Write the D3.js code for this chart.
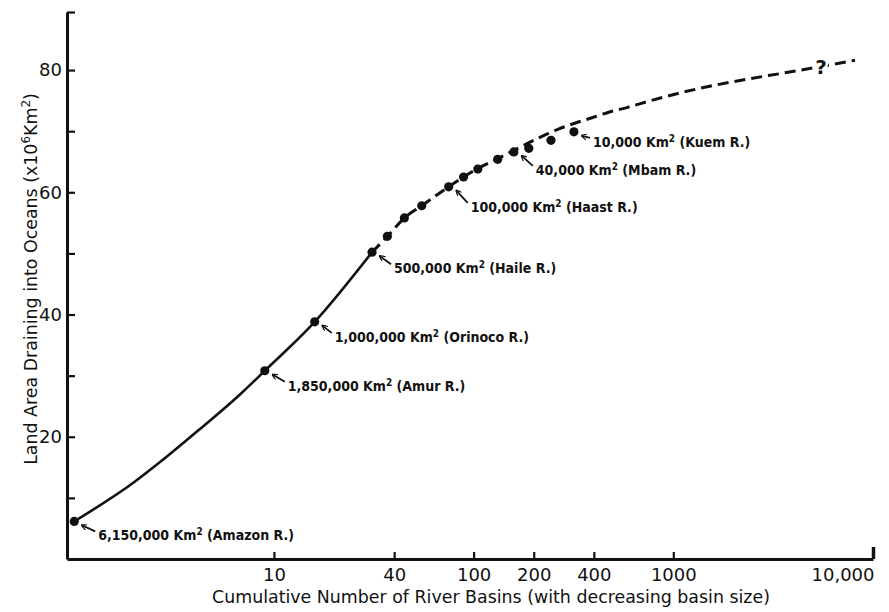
<!DOCTYPE html>
<html>
<head>
<meta charset="utf-8">
<script src="https://cdn.jsdelivr.net/npm/d3@7"></script>
<style>
  body { margin: 0; background: #fff; }
  svg { display: block; }
  .tick text { font-family: "DejaVu Sans", sans-serif; font-size: 18px; fill: #111; }
  .lbl { font-family: "DejaVu Sans Condensed", "DejaVu Sans", sans-serif; font-weight: bold; font-size: 14px; fill: #111; }
  .title { font-family: "DejaVu Sans", sans-serif; font-size: 17.4px; fill: #111; }
</style>
</head>
<body>
<div id="chart"></div>
<script>
// observed basins (cumulative rank, cumulative area x10^6 km2)
var dotN = [1, 9, 16, 31, 37, 45, 55, 75, 89, 105, 132, 159, 189, 244, 318];
var dotV = [6.15, 30.8, 38.8, 50.2, 52.8, 55.8, 57.8, 60.9, 62.5, 63.8, 65.4, 66.6, 67.2, 68.5, 69.9];

// fitted curve (solid up to Haile R., dashed beyond)
var curveN = [1, 2.0, 2.7, 4.2, 6.7, 9, 16, 31, 37, 45, 55, 75, 89, 105, 132, 160, 215, 264, 321, 391, 475, 590, 770, 1125, 1660, 2430, 3550, 5500, 8130];
var curveV = [6.15, 12.6, 15.9, 21.1, 26.8, 30.8, 38.8, 50.2, 52.8, 55.8, 57.8, 60.9, 62.5, 63.9, 65.5, 66.9, 69.0, 70.3, 71.3, 72.2, 73.1, 73.9, 75.0, 76.4, 77.6, 78.6, 79.5, 80.6, 81.6];
var solidEnd = 31;

// annotated rivers: index into dots, text
var labelIdx = [0, 1, 2, 3, 7, 11, 14];
var labelArea = ["6,150,000", "1,850,000", "1,000,000", "500,000", "100,000", "40,000", "10,000"];
var labelRiver = ["Amazon R.", "Amur R.", "Orinoco R.", "Haile R.", "Haast R.", "Mbam R.", "Kuem R."];

var xTicks = [10, 40, 100, 200, 400, 1000, 10000];
var yTicks = [10, 20, 30, 40, 50, 60, 70, 80, 89.5];
var yLabels = [20, 40, 60, 80];
var questionN = 5500, questionV = 80.6;

var width = 889, height = 612;

var x = d3.scaleLog().domain([0.92, 10000]).range([67, 873]);
var y = d3.scaleLinear().domain([0, 89.5]).range([559, 12]);

var svg = d3.select("#chart").append("svg")
  .attr("width", width)
  .attr("height", height);

// label offsets from their dot (text start dx, baseline dy)
var labelOff = [[24, 19], [23, 20], [20, 20], [22, 21], [22, 25], [22, 23], [19, 15]];

// curve
var line = d3.line()
  .x(function(d) { return x(d[0]); })
  .y(function(d) { return y(d[1]); })
  .curve(d3.curveMonotoneX);

var pts = curveN.map(function(n, i) { return [n, curveV[i]]; });
var solidPts = pts.filter(function(d) { return d[0] <= solidEnd; });
var dashPts = pts.filter(function(d) { return d[0] >= solidEnd; });

svg.append("path")
  .datum(solidPts)
  .attr("d", line)
  .attr("fill", "none")
  .attr("stroke", "#111")
  .attr("stroke-width", 2.6);

svg.append("path")
  .datum(dashPts)
  .attr("d", line)
  .attr("fill", "none")
  .attr("stroke", "#111")
  .attr("stroke-width", 3)
  .attr("stroke-dasharray", "11,6");

// question mark on the extrapolated part
svg.append("text")
  .attr("x", x(questionN))
  .attr("y", y(questionV))
  .attr("dy", "0.4em")
  .attr("text-anchor", "middle")
  .attr("font-family", "DejaVu Sans, sans-serif")
  .attr("font-weight", "bold")
  .attr("font-size", 20)
  .attr("fill", "#111")
  .attr("stroke", "#fff")
  .attr("stroke-width", 5)
  .attr("paint-order", "stroke")
  .text("?");

// dots
svg.selectAll("circle.dot")
  .data(dotN)
  .enter().append("circle")
  .attr("class", "dot")
  .attr("cx", function(d) { return x(d); })
  .attr("cy", function(d, i) { return y(dotV[i]); })
  .attr("r", 4.6)
  .attr("fill", "#111");

// arrowhead
svg.append("defs").append("marker")
  .attr("id", "ah")
  .attr("viewBox", "0 0 10 10")
  .attr("refX", 8).attr("refY", 5)
  .attr("markerWidth", 6).attr("markerHeight", 6)
  .attr("markerUnits", "userSpaceOnUse")
  .attr("orient", "auto")
  .append("path")
  .attr("d", "M0,0 L10,5 L0,10")
  .attr("fill", "none")
  .attr("stroke", "#111")
  .attr("stroke-width", 2);

labelIdx.forEach(function(k, i) {
  var cx = x(dotN[k]), cy = y(dotV[k]);
  var tx = cx + labelOff[i][0], ty = cy + labelOff[i][1];
  svg.append("line")
    .attr("x1", tx - 3).attr("y1", ty - 9)
    .attr("x2", cx + 8).attr("y2", cy + 4)
    .attr("stroke", "#111")
    .attr("stroke-width", 1.8)
    .attr("marker-end", "url(#ah)");
  var t = svg.append("text")
    .attr("class", "lbl")
    .attr("x", tx)
    .attr("y", ty);
  t.append("tspan").text(labelArea[i] + " Km");
  t.append("tspan").attr("dy", -5).attr("font-size", 10).text("2");
  t.append("tspan").attr("dy", 5).text(" (" + labelRiver[i] + ")");
});

// axes
var xAxis = svg.append("g")
  .attr("transform", "translate(0," + y(0) + ")")
  .call(d3.axisBottom(x)
    .tickValues(xTicks)
    .tickSize(-7)
    .tickSizeOuter(0)
    .tickPadding(9)
    .tickFormat(function(d) { return d == 10000 ? "10,000" : d; }));
xAxis.select(".domain").attr("stroke", "#111").attr("stroke-width", 3);
xAxis.selectAll(".tick line").attr("stroke", "#111").attr("stroke-width", 2.2);
xAxis.selectAll(".tick")
  .filter(function(d) { return d == 10000; })
  .each(function() {
    d3.select(this).select("line").attr("y2", -12).attr("stroke-width", 3.5);
    d3.select(this).select("text").attr("text-anchor", "end").attr("dx", 1);
  });

var yAxis = svg.append("g")
  .attr("transform", "translate(" + x.range()[0] + ",0)")
  .call(d3.axisLeft(y)
    .tickValues(yTicks)
    .tickSize(-8)
    .tickSizeOuter(0)
    .tickPadding(5)
    .tickFormat(function(d) { return yLabels.indexOf(d) >= 0 ? d : ""; }));
yAxis.select(".domain").attr("stroke", "#111").attr("stroke-width", 3);
yAxis.selectAll(".tick line").attr("stroke", "#111").attr("stroke-width", 2.2);

// axis titles
svg.append("text")
  .attr("class", "title")
  .attr("x", 491)
  .attr("y", 603)
  .attr("text-anchor", "middle")
  .text("Cumulative Number of River Basins (with decreasing basin size)");

var yt = svg.append("text")
  .attr("class", "title")
  .attr("transform", "translate(37,279) rotate(-90)")
  .attr("text-anchor", "middle");
yt.append("tspan").text("Land Area Draining into Oceans (x10");
yt.append("tspan").attr("dy", -7).attr("font-size", 12).text("6");
yt.append("tspan").attr("dy", 7).text("Km");
yt.append("tspan").attr("dy", -7).attr("font-size", 12).text("2");
yt.append("tspan").attr("dy", 7).text(")");
</script>
</body>
</html>
